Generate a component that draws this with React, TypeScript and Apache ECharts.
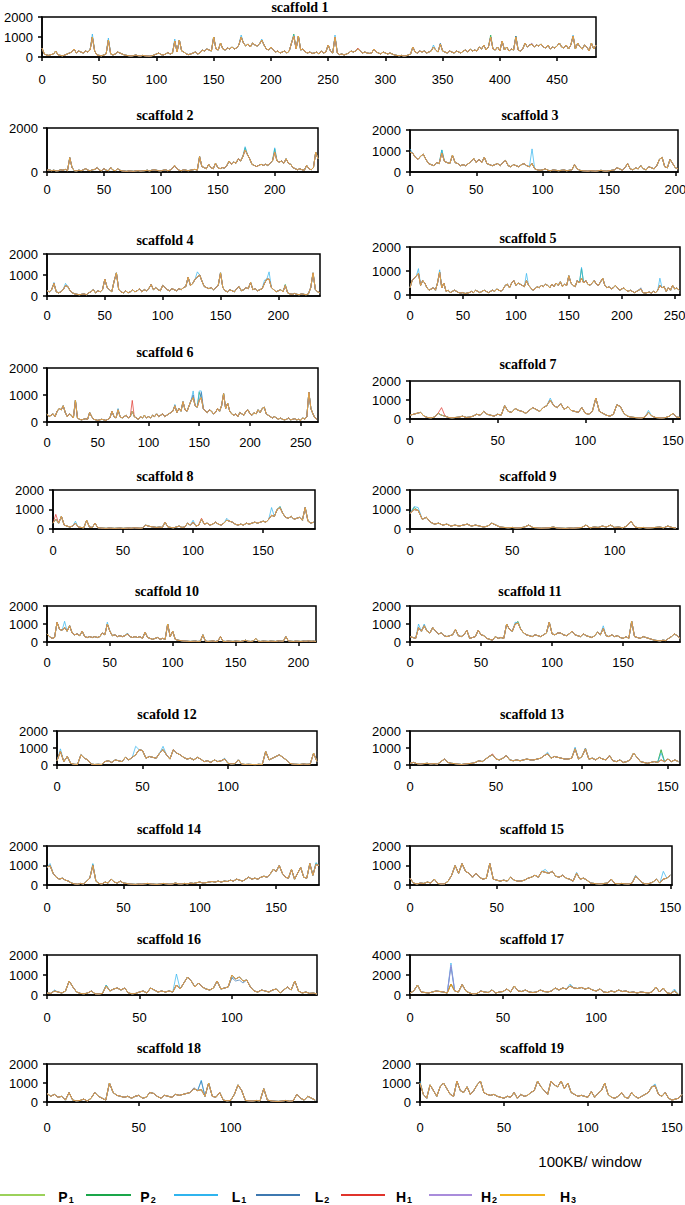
import React, { useEffect, useRef } from "react";
import * as echarts from "echarts";

// ---- series identity ----
const KEYS = ["P1", "P2", "L1", "L2", "H1", "H2", "H3"];
const NAMES = ["P₁", "P₂", "L₁", "L₂", "H₁", "H₂", "H₃"];
const LEGEND_LETTERS = ["P", "P", "L", "L", "H", "H", "H"];
const LEGEND_SUBS = ["1", "2", "1", "2", "1", "2", "3"];
const COLORS = ["#9BD15A", "#1AA64A", "#2FB4EE", "#3D78B0", "#E0332B", "#A98CDB", "#F2B21B"];

// window step of the sampled values (100KB windows)
const STEP = 2;

// ---- scaffold titles ----
const TITLES = [
  "scaffold 1", "scaffold 2", "scaffold 3", "scaffold 4", "scaffold 5", "scaffold 6", "scaffold 7",
  "scaffold 8", "scaffold 9", "scaffold 10", "scaffold 11", "scafold 12", "scaffold 13", "scaffold 14",
  "scaffold 15", "scaffold 16", "scaffold 17", "scaffold 18", "scaffold 19",
];

// ---- axis extents and tick labels ----
const X_MAX = [484, 238, 202, 236, 255, 267, 154, 187, 131, 214, 190, 152, 157, 178, 151, 146, 145, 147, 156];
const Y_MAX = [2000, 2000, 2000, 2000, 2000, 2000, 2000, 2000, 2000, 2000, 2000, 2000, 2000, 2000, 2000, 2000, 4000, 2000, 2000];
const Y_INTERVAL = [1000, 2000, 1000, 1000, 1000, 1000, 1000, 1000, 1000, 1000, 1000, 1000, 1000, 1000, 1000, 1000, 2000, 1000, 1000];
const TICKS_450 = [0, 50, 100, 150, 200, 250, 300, 350, 400, 450];
const TICKS_250 = [0, 50, 100, 150, 200, 250];
const TICKS_200 = [0, 50, 100, 150, 200];
const TICKS_150 = [0, 50, 100, 150];
const TICKS_100 = [0, 50, 100];
const X_TICKS = [
  TICKS_450, TICKS_200, TICKS_200, TICKS_200, TICKS_250, TICKS_250, TICKS_150, TICKS_150, TICKS_100, TICKS_200,
  TICKS_150, TICKS_100, TICKS_150, TICKS_150, TICKS_150, TICKS_100, TICKS_100, TICKS_100, TICKS_150,
];

// ---- values (every 2nd window), shared profile per scaffold ----
const S1 = [
  450, 150, 100, 80, 120, 150, 300, 100, 80, 60,
  100, 150, 200, 250, 400, 200, 300, 250, 200, 300,
  250, 350, 1000, 300, 100, 80, 60, 100, 150, 850,
  150, 100, 150, 250, 200, 150, 100, 80, 60, 50,
  70, 100, 60, 50, 80, 60, 50, 40, 60, 100,
  150, 200, 120, 100, 150, 220, 150, 200, 800, 250,
  850, 300, 250, 150, 120, 150, 200, 250, 150, 200,
  350, 300, 400, 350, 300, 1000, 400, 350, 700, 400,
  350, 450, 400, 500, 400, 450, 600, 1000, 700, 550,
  650, 500, 700, 600, 550, 650, 850, 600, 400, 350,
  500, 350, 250, 300, 200, 250, 300, 200, 300, 700,
  1050, 400, 1050, 350, 400, 250, 200, 250, 180, 200,
  250, 150, 300, 200, 250, 600, 300, 200, 1000, 200,
  120, 150, 100, 150, 200, 300, 250, 300, 400, 300,
  200, 250, 200, 180, 200, 400, 250, 200, 150, 250,
  200, 150, 200, 150, 100, 80, 60, 80, 50, 60,
  100, 150, 500, 250, 200, 300, 250, 300, 200, 250,
  300, 500, 350, 250, 650, 300, 250, 200, 300, 250,
  200, 300, 250, 200, 300, 350, 250, 400, 300, 350,
  300, 500, 400, 600, 350, 500, 1000, 400, 350, 500,
  300, 800, 350, 500, 300, 400, 350, 1000, 350, 300,
  400, 700, 500, 600, 650, 500, 600, 550, 650, 500,
  450, 600, 400, 500, 450, 550, 700, 500, 450, 600,
  400, 600, 1050, 400, 700, 500, 400, 600, 500, 300,
  700, 400, 600,
];
const S2 = [
  80, 100, 60, 80, 50, 60, 100, 80, 120, 60,
  650, 200, 60, 50, 80, 60, 100, 150, 80, 60,
  100, 120, 200, 80, 60, 150, 80, 60, 200, 80,
  60, 150, 80, 50, 40, 30, 50, 40, 30, 50,
  60, 40, 50, 60, 80, 50, 80, 100, 80, 60,
  50, 80, 100, 60, 80, 150, 300, 150, 80, 60,
  100, 80, 60, 80, 100, 120, 80, 700, 250, 200,
  150, 350, 200, 150, 400, 200, 150, 200, 180, 300,
  500, 350, 450, 400, 600, 500, 700, 1000, 800, 600,
  350, 300, 250, 300, 350, 300, 350, 300, 400, 500,
  900, 500, 450, 500, 400, 600, 400, 350, 200, 150,
  100, 150, 100, 80, 300, 150, 100, 200, 900, 600,
];
const S3 = [
  950, 900, 700, 600, 750, 850, 600, 400, 350, 300,
  450, 400, 900, 500, 450, 400, 800, 450, 400, 300,
  350, 300, 400, 500, 650, 450, 600, 450, 700, 400,
  350, 300, 350, 400, 300, 450, 550, 300, 250, 350,
  300, 250, 350, 400, 300, 250, 400, 150, 100, 80,
  100, 150, 80, 60, 100, 80, 60, 80, 100, 60,
  80, 100, 350, 150, 80, 60, 50, 40, 60, 50,
  40, 60, 80, 50, 40, 60, 80, 100, 200, 150,
  80, 200, 400, 150, 100, 200, 150, 300, 150, 100,
  250, 200, 150, 300, 600, 700, 250, 200, 600, 400,
  200, 150,
];
const S4 = [
  250, 200, 300, 600, 200, 150, 200, 300, 500, 450,
  250, 150, 100, 80, 60, 80, 100, 60, 150, 200,
  300, 150, 250, 200, 300, 800, 400, 300, 200, 700,
  1100, 300, 200, 150, 250, 150, 200, 300, 200, 250,
  350, 200, 300, 250, 350, 550, 300, 400, 300, 250,
  500, 400, 300, 250, 350, 300, 250, 350, 300, 400,
  450, 900, 500, 600, 800, 900, 1000, 700, 450, 400,
  350, 400, 300, 400, 500, 1100, 400, 250, 200, 300,
  250, 200, 350, 450, 250, 300, 400, 350, 650, 300,
  350, 250, 300, 350, 600, 800, 800, 400, 300, 200,
  250, 300, 200, 500, 150, 100, 80, 120, 80, 60,
  100, 80, 60, 100, 400, 1100, 300, 200, 150,
];
const S5 = [
  300, 600, 700, 800, 900, 400, 600, 500, 300, 200,
  250, 300, 200, 500, 950, 300, 500, 150, 200, 100,
  150, 200, 150, 100, 80, 100, 60, 80, 100, 150,
  100, 200, 150, 100, 150, 200, 150, 100, 150, 200,
  150, 250, 200, 150, 250, 400, 450, 300, 500, 600,
  400, 500, 450, 400, 350, 600, 400, 300, 200, 250,
  350, 300, 400, 350, 450, 400, 300, 450, 350, 500,
  400, 550, 350, 450, 400, 800, 500, 400, 350, 600,
  500, 700, 500, 600, 450, 400, 500, 600, 450, 400,
  550, 700, 400, 300, 350, 250, 300, 400, 300, 200,
  250, 300, 200, 150, 200, 150, 100, 150, 200, 250,
  100, 80, 100, 120, 80, 150, 100, 200, 400, 300,
  350, 150, 300, 200, 400, 250, 300, 200,
];
const S6 = [
  300, 200, 250, 300, 200, 400, 500, 450, 600, 350,
  200, 300, 250, 150, 800, 150, 100, 80, 100, 120,
  100, 350, 200, 100, 80, 60, 80, 100, 80, 60,
  100, 150, 400, 200, 150, 450, 200, 150, 200, 250,
  150, 200, 400, 200, 150, 100, 200, 150, 250, 150,
  200, 150, 250, 200, 300, 200, 250, 300, 200, 250,
  300, 350, 400, 600, 350, 500, 400, 750, 450, 400,
  600, 800, 900, 600, 550, 800, 900, 500, 400, 350,
  450, 400, 300, 350, 500, 400, 600, 1050, 500, 700,
  400, 300, 250, 300, 200, 350, 300, 250, 400, 450,
  300, 250, 350, 300, 450, 350, 500, 550, 300, 250,
  200, 150, 200, 150, 100, 150, 100, 80, 100, 150,
  80, 100, 120, 80, 100, 60, 150, 100, 200, 1100,
  500, 300, 150, 100,
];
const S7 = [
  200, 250, 300, 350, 150, 80, 60, 100, 300, 200,
  150, 80, 60, 80, 100, 150, 80, 100, 150, 250,
  200, 400, 250, 200, 150, 250, 200, 700, 400, 350,
  550, 450, 400, 300, 450, 600, 500, 400, 600, 700,
  1000, 700, 600, 800, 500, 650, 450, 400, 350, 600,
  300, 250, 400, 1100, 400, 300, 200, 150, 250, 750,
  650, 300, 150, 100, 80, 60, 50, 100, 350, 150,
  80, 60, 50, 80, 150, 300, 100, 80,
];
const S8 = [
  300, 500, 300, 650, 200, 150, 100, 150, 300, 100,
  80, 60, 450, 100, 80, 300, 60, 50, 40, 30,
  50, 40, 30, 40, 50, 30, 40, 50, 40, 60,
  50, 40, 50, 200, 150, 120, 100, 80, 100, 80,
  350, 100, 80, 60, 100, 150, 80, 100, 300, 200,
  350, 150, 200, 500, 250, 300, 200, 250, 350, 250,
  200, 300, 450, 400, 350, 250, 200, 250, 200, 300,
  250, 300, 350, 300, 350, 400, 350, 500, 700, 650,
  1000, 1100, 800, 600, 550, 650, 500, 550, 600, 450,
  1100, 400, 300, 350,
];
const S9 = [
  800, 1000, 950, 500, 600, 350, 250, 300, 200, 250,
  150, 200, 150, 200, 250, 150, 200, 150, 100, 150,
  300, 200, 100, 80, 60, 80, 50, 60, 100, 200,
  80, 60, 40, 50, 60, 100, 50, 40, 30, 50,
  40, 60, 80, 200, 60, 100, 80, 150, 100, 200,
  80, 100, 60, 150, 400, 100, 60, 80, 50, 60,
  80, 100, 60, 150, 80, 50,
];
const S10 = [
  450, 300, 200, 250, 1100, 700, 650, 800, 600, 900,
  500, 400, 450, 350, 600, 300, 250, 300, 250, 300,
  250, 300, 500, 400, 1000, 600, 350, 400, 300, 350,
  300, 350, 450, 300, 250, 300, 250, 300, 200, 550,
  250, 200, 150, 200, 250, 150, 200, 150, 1000, 300,
  600, 150, 100, 80, 60, 50, 40, 30, 40, 50,
  30, 40, 400, 50, 30, 40, 60, 30, 50, 300,
  40, 30, 50, 40, 30, 50, 40, 30, 60, 100,
  40, 30, 50, 200, 40, 30, 50, 40, 30, 50,
  40, 30, 60, 50, 40, 300, 60, 40, 30, 50,
  40, 30, 50, 40, 60, 40, 50, 30,
];
const S11 = [
  300, 250, 200, 800, 600, 900, 600, 500, 800, 600,
  450, 500, 350, 300, 350, 400, 700, 350, 300, 400,
  650, 200, 250, 300, 650, 400, 350, 200, 150, 100,
  300, 200, 250, 200, 1000, 700, 600, 1000, 1050, 700,
  500, 400, 350, 300, 400, 350, 300, 400, 500, 1100,
  450, 400, 500, 500, 400, 350, 450, 600, 400, 350,
  300, 450, 350, 300, 250, 350, 550, 400, 750, 350,
  300, 400, 300, 350, 250, 200, 300, 200, 1150, 300,
  250, 200, 300, 250, 200, 150, 100, 80, 60, 100,
  80, 200, 300, 450, 350, 200,
];
const S12 = [
  250, 800, 200, 500, 100, 40, 30, 600, 400, 300,
  50, 30, 40, 30, 200, 250, 150, 300, 250, 200,
  450, 300, 450, 600, 900, 850, 400, 500, 450, 400,
  700, 900, 600, 350, 900, 700, 600, 450, 350, 400,
  300, 450, 350, 200, 250, 150, 300, 200, 250, 350,
  100, 60, 80, 300, 50, 30, 40, 30, 20, 40,
  30, 800, 300, 400, 500, 600, 450, 300, 100, 50,
  40, 30, 60, 40, 50, 700, 200,
];
const S13 = [
  100, 150, 80, 50, 80, 100, 60, 80, 50, 200,
  350, 150, 100, 80, 50, 30, 60, 80, 100, 150,
  250, 200, 350, 500, 600, 350, 300, 400, 550, 300,
  250, 300, 250, 300, 350, 300, 300, 350, 400, 550,
  650, 400, 500, 450, 400, 350, 350, 400, 950, 350,
  500, 950, 350, 400, 300, 450, 350, 300, 550, 250,
  200, 300, 150, 200, 300, 700, 450, 200, 150, 100,
  150, 200, 150, 300, 200, 350, 200, 300, 200,
];
const S14 = [
  900, 1000, 600, 400, 300, 350, 250, 200, 100, 60,
  40, 80, 50, 200, 350, 1000, 200, 80, 50, 150,
  100, 300, 150, 100, 200, 100, 80, 50, 40, 30,
  50, 40, 60, 80, 50, 40, 30, 50, 80, 60,
  40, 50, 100, 60, 50, 80, 60, 100, 80, 120,
  150, 100, 120, 150, 180, 150, 200, 150, 200, 180,
  250, 200, 300, 250, 200, 300, 400, 300, 350, 300,
  400, 450, 400, 550, 800, 700, 1000, 600, 400, 350,
  800, 300, 600, 900, 400, 350, 1100, 500, 1050, 1000,
];
const S15 = [
  350, 100, 50, 100, 80, 150, 100, 300, 80, 50,
  60, 200, 500, 1000, 600, 1100, 700, 600, 400, 600,
  400, 300, 350, 1100, 300, 250, 200, 250, 200, 400,
  250, 200, 200, 250, 350, 400, 500, 400, 700, 650,
  600, 700, 450, 400, 500, 350, 300, 200, 600, 300,
  350, 250, 100, 80, 60, 50, 80, 100, 300, 80,
  60, 80, 60, 50, 100, 450, 300, 100, 50, 80,
  150, 300, 100, 300, 350, 500,
];
const S16 = [
  100, 80, 200, 150, 100, 200, 700, 400, 150, 80,
  60, 100, 200, 60, 50, 80, 450, 200, 300, 350,
  250, 350, 100, 60, 80, 150, 200, 100, 350, 250,
  150, 200, 150, 200, 150, 500, 300, 600, 900, 700,
  400, 600, 400, 300, 250, 350, 700, 300, 350, 400,
  1000, 800, 900, 700, 750, 400, 200, 150, 250, 200,
  150, 250, 300, 100, 250, 400, 250, 700, 200, 100,
  150, 80, 100, 50,
];
const S17 = [
  200, 400, 1000, 300, 250, 200, 300, 400, 350, 300,
  200, 1100, 400, 300, 1050, 400, 200, 100, 150, 400,
  300, 250, 500, 200, 300, 350, 600, 300, 900, 400,
  350, 500, 300, 250, 300, 500, 350, 300, 400, 700,
  500, 700, 600, 900, 700, 650, 750, 600, 700, 500,
  400, 600, 300, 250, 400, 300, 500, 350, 400, 250,
  300, 200, 300, 250, 200, 300, 800, 300, 700, 200,
  150, 400, 100,
];
const S18 = [
  450, 300, 400, 250, 300, 100, 500, 100, 60, 80,
  150, 50, 200, 500, 300, 200, 100, 1000, 500, 350,
  300, 250, 300, 200, 300, 350, 200, 250, 500, 450,
  300, 200, 350, 300, 250, 400, 350, 400, 450, 500,
  700, 600, 650, 300, 1000, 300, 250, 500, 100, 60,
  80, 400, 900, 600, 80, 60, 50, 80, 60, 700,
  100, 60, 40, 30, 50, 80, 40, 60, 400, 200,
  100, 300, 200, 100,
];
const S19 = [
  1000, 400, 200, 900, 600, 300, 800, 1000, 700, 400,
  300, 1100, 600, 500, 800, 400, 600, 900, 1100, 500,
  400, 350, 400, 300, 250, 200, 300, 250, 500, 200,
  400, 300, 350, 500, 600, 1100, 800, 600, 400, 1100,
  900, 800, 1100, 700, 1000, 500, 400, 300, 350, 300,
  250, 550, 250, 450, 600, 1000, 400, 250, 200, 300,
  500, 250, 200, 500, 300, 200, 300, 400, 500, 800,
  850, 400, 300, 500, 200, 100, 150, 200, 400,
];
const BASES = [S1, S2, S3, S4, S5, S6, S7, S8, S9, S10, S11, S12, S13, S14, S15, S16, S17, S18, S19];

// ---- windows where one line departs from the shared profile: {window: value} ----
type Peaks = { [k: string]: { [w: number]: number } };
const PEAKS: Peaks[] = [
  { L1: { 44: 1150, 58: 950, 116: 900, 174: 1100, 192: 900, 220: 1100, 256: 1100, 342: 600, 464: 1100 }, P2: { 220: 1150, 392: 1100, 414: 1050 }, L2: { 348: 700, 414: 1050 }, H2: { 428: 700 }, H1: { 276: 450 } },
  { L1: { 174: 1150, 200: 1100 }, P2: { 174: 1100, 200: 1050 } },
  { L1: { 0: 1100, 24: 1050, 92: 1100 }, P2: { 24: 1050 } },
  { L1: { 6: 650, 16: 600, 130: 1150, 188: 750, 192: 1150 }, P2: { 206: 550 } },
  { L1: { 8: 1100, 28: 1050, 110: 900, 162: 1150, 236: 700 }, P2: { 162: 1100 }, L2: { 218: 300 } },
  { L1: { 70: 500, 126: 650, 144: 1150, 150: 1150, 152: 1150 }, L2: { 144: 1000, 152: 1100 }, H1: { 84: 800 }, P2: { 150: 1100 } },
  { L1: { 80: 1100, 136: 450 }, H1: { 18: 600 } },
  { H1: { 2: 750, 106: 550 }, L1: { 16: 400, 100: 450, 124: 550, 156: 1100, 162: 1150 }, P2: { 162: 1150 } },
  { L1: { 2: 1150, 4: 1100 }, P2: { 2: 1100 } },
  { L1: { 14: 1150, 48: 1100, 64: 500 } },
  { L1: { 6: 1000, 10: 1000, 74: 1100, 136: 900 }, P2: { 76: 1150, 156: 1150 } },
  { L1: { 2: 950, 46: 1100, 62: 1100, 98: 400 } },
  { L1: { 80: 750, 96: 1050, 102: 1000, 146: 700 }, P2: { 146: 900 }, P1: { 146: 850 }, H1: { 48: 650 } },
  { L1: { 2: 1100, 30: 1100, 176: 1150 }, P2: { 30: 1050, 176: 1100 } },
  { L1: { 78: 800, 96: 650, 130: 500, 146: 700 } },
  { L1: { 4: 250, 32: 500, 70: 1050, 100: 900 }, L2: { 100: 850, 102: 700, 104: 750, 106: 600 }, P2: { 32: 500 } },
  { L1: { 22: 3200, 86: 1100, 142: 600 }, H2: { 22: 3000 }, L2: { 22: 2800 } },
  { L1: { 84: 1150 }, L2: { 80: 750, 84: 1100 } },
  { L1: { 0: 1100, 140: 950 } },
];

// ---- page layout: [plotLeft, plotRight, plotTop, plotBottom, titleX, titleY, xLabelY] ----
const LAYOUT = [
  [42, 596, 17, 57, 300, 7, 80],
  [47, 318, 128, 172, 165, 115, 190],
  [410, 678, 130, 172, 530, 115, 190],
  [47, 320, 254, 296, 165, 240, 316],
  [410, 680, 247, 295, 528, 238, 316],
  [47, 318, 368, 422, 165, 352, 443],
  [410, 680, 381, 419, 528, 364, 441],
  [53, 315, 490, 529, 165, 476, 551],
  [410, 678, 490, 529, 528, 476, 551],
  [47, 316, 606, 642, 167, 591, 663],
  [410, 680, 606, 642, 530, 591, 663],
  [57, 317, 731, 765, 167, 714, 787],
  [410, 680, 731, 765, 532, 714, 787],
  [47, 319, 846, 885, 169, 829, 908],
  [410, 672, 846, 885, 532, 829, 908],
  [47, 317, 955, 995, 169, 939, 1018],
  [410, 680, 955, 995, 532, 939, 1018],
  [47, 317, 1064, 1102, 169, 1048, 1128],
  [420, 682, 1064, 1102, 532, 1048, 1128],
];
// legend: [lineStart, lineEnd, labelCenter]
const LEGEND_POS = [
  [0, 45, 66], [86, 131, 148], [174, 218, 239], [256, 300, 322],
  [341, 385, 404], [429, 472, 489], [500, 545, 568],
];
const LEGEND_Y = 1195;

const SANS = '"Liberation Sans", Arial, Helvetica, sans-serif';
const SERIF = '"Liberation Serif", "Times New Roman", serif';

function buildOption() {
  const grid: any[] = [];
  const xAxis: any[] = [];
  const yAxis: any[] = [];
  const series: any[] = [];
  const graphic: any[] = [];
  const black = { color: "#000", width: 1.5 };

  BASES.forEach((base, i) => {
    const [l, r, t, b, tx, ty, ly] = LAYOUT[i];
    grid.push({
      left: l, top: t, width: r - l, height: b - t,
      show: true, borderColor: "#000", borderWidth: 1.5, backgroundColor: "transparent",
      containLabel: false, outerBoundsMode: "none",
    });
    const ticks = X_TICKS[i];
    xAxis.push({
      type: "value", gridIndex: i, min: 0, max: X_MAX[i], interval: 50,
      axisLine: { show: true, onZero: false, lineStyle: black },
      axisTick: { show: true, inside: false, length: 4, customValues: ticks, lineStyle: black },
      axisLabel: {
        customValues: ticks, color: "#000", fontSize: 13, fontFamily: SANS, margin: ly - b - 7,
        formatter: (v: number) => (v % 50 === 0 ? String(v) : ""),
      },
      splitLine: { show: false },
    });
    yAxis.push({
      type: "value", gridIndex: i, min: 0, max: Y_MAX[i], interval: Y_INTERVAL[i],
      axisLine: { show: true, onZero: false, lineStyle: black },
      axisTick: { show: true, inside: false, length: 4, lineStyle: black },
      axisLabel: {
        color: "#000", fontSize: 13, fontFamily: SANS, margin: 9,
        formatter: (v: number) => String(v),
      },
      splitLine: { show: false },
    });
    const peaks = PEAKS[i];
    KEYS.forEach((k, s) => {
      const own = peaks[k] || {};
      series.push({
        type: "line", name: NAMES[s], xAxisIndex: i, yAxisIndex: i,
        data: base.map((v, j) => {
          const w = j * STEP;
          return [w, own[w] !== undefined ? own[w] : v];
        }),
        symbol: "none", showSymbol: false, silent: true, clip: true,
        lineStyle: { width: 1, color: COLORS[s], opacity: 0.7 },
        itemStyle: { color: COLORS[s] },
      });
    });
    graphic.push({
      type: "text", x: tx, y: ty,
      style: { text: TITLES[i], font: `bold 14px ${SERIF}`, fill: "#000", textAlign: "center", textVerticalAlign: "middle" },
    });
  });

  graphic.push({
    type: "text", x: 590, y: 1161,
    style: { text: "100KB/ window", font: `15px ${SANS}`, fill: "#000", textAlign: "center", textVerticalAlign: "middle" },
  });
  LEGEND_POS.forEach(([x1, x2, lx], s) => {
    graphic.push({
      type: "line", shape: { x1, y1: LEGEND_Y, x2, y2: LEGEND_Y },
      style: { stroke: COLORS[s], lineWidth: 2 },
    });
    graphic.push({
      type: "text", x: lx, y: LEGEND_Y + 1,
      style: {
        text: `{m|${LEGEND_LETTERS[s]}}{s|${LEGEND_SUBS[s]}}`,
        textAlign: "center", textVerticalAlign: "middle",
        rich: {
          m: { font: `bold 14px ${SANS}`, fill: "#000", lineHeight: 16, verticalAlign: "bottom" },
          s: { font: `bold 9px ${SANS}`, fill: "#000", lineHeight: 9, verticalAlign: "bottom", padding: [0, 0, 0, 1] },
        },
      },
    });
  });

  return {
    animation: false,
    backgroundColor: "#fff",
    grid, xAxis, yAxis, series, graphic,
  };
}

export default function App() {
  const ref = useRef<HTMLDivElement>(null);
  useEffect(() => {
    if (!ref.current) return;
    const chart = echarts.init(ref.current, null, { renderer: "svg" });
    chart.setOption(buildOption() as any);
    return () => chart.dispose();
  }, []);
  return (
    <div
      ref={ref}
      style={{ position: "absolute", left: 0, top: 0, width: 685, height: 1205, background: "#fff" }}
    />
  );
}
